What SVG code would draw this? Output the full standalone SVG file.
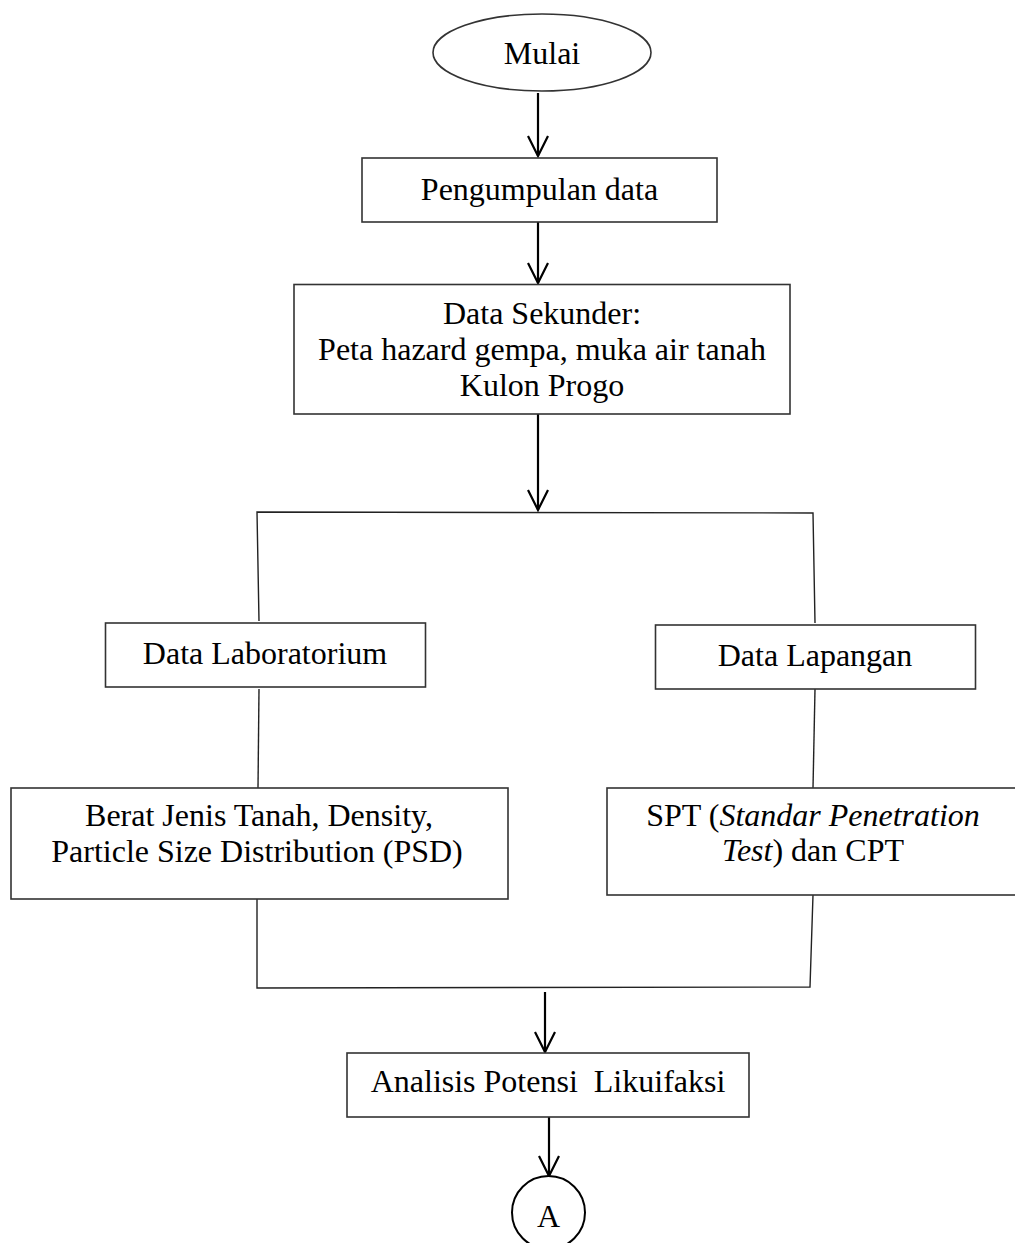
<svg xmlns="http://www.w3.org/2000/svg" width="1015" height="1243" viewBox="0 0 1015 1243">
<style>
.box{fill:#fff;stroke:#333;stroke-width:1.6}
.t{font-family:"Liberation Serif","Times New Roman",serif;font-size:32px;fill:#000;text-anchor:middle}
.ln{fill:none;stroke:#222;stroke-width:1.4}
.ar{fill:none;stroke:#000;stroke-width:2.2}
</style>
<defs>
<marker id="v" markerUnits="userSpaceOnUse" markerWidth="26" markerHeight="26" viewBox="-23 -13 26 26" refX="0" refY="0" orient="auto" overflow="visible">
<path d="M-20,-10 L0,0 L-20,10" fill="none" stroke="#000" stroke-width="2.2"/>
</marker>
</defs>
<rect width="1015" height="1243" fill="#fff"/>
<g id="connectors">
<line class="ar" x1="538" y1="93" x2="538" y2="156" marker-end="url(#v)"/>
<line class="ar" x1="538" y1="222" x2="538" y2="283" marker-end="url(#v)"/>
<line class="ar" x1="538" y1="414" x2="538" y2="510" marker-end="url(#v)"/>
<polyline class="ln" points="259,621 257,512 813,513 815,623"/>
<line class="ln" x1="259" y1="689" x2="258" y2="788"/>
<line class="ln" x1="815" y1="689" x2="813" y2="788"/>
<polyline class="ln" points="257,899 257,988 810,987 813,895"/>
<line class="ar" x1="545" y1="992" x2="545" y2="1052" marker-end="url(#v)"/>
<line class="ar" x1="549" y1="1117" x2="549" y2="1176" marker-end="url(#v)"/>
</g>
<g id="mulai">
<ellipse class="box" cx="542" cy="52.5" rx="109" ry="38.5"/>
<text class="t" x="542" y="64">Mulai</text>
</g>
<g id="pengumpulan">
<rect class="box" x="362" y="158" width="355" height="64"/>
<text class="t" x="539.5" y="200">Pengumpulan data</text>
</g>
<g id="sekunder">
<rect class="box" x="294" y="284.5" width="496" height="129.5"/>
<text class="t" x="542" y="324">Data Sekunder:</text>
<text class="t" x="542" y="360">Peta hazard gempa, muka air tanah</text>
<text class="t" x="542" y="396">Kulon Progo</text>
</g>
<g id="laboratorium">
<rect class="box" x="105.5" y="623" width="320" height="64"/>
<text class="t" x="265" y="664">Data Laboratorium</text>
</g>
<g id="lapangan">
<rect class="box" x="655.5" y="625" width="320" height="64"/>
<text class="t" x="815" y="666">Data Lapangan</text>
</g>
<g id="berat">
<rect class="box" x="11" y="788" width="497" height="111"/>
<text class="t" x="259" y="826">Berat Jenis Tanah, Density,</text>
<text class="t" x="257" y="862">Particle Size Distribution (PSD)</text>
</g>
<g id="spt">
<rect class="box" x="607" y="788" width="420" height="107"/>
<text class="t" x="813" y="826">SPT (<tspan font-style="italic">Standar Penetration</tspan></text>
<text class="t" x="813" y="861"><tspan font-style="italic">Test</tspan>) dan CPT</text>
</g>
<g id="analisis">
<rect class="box" x="347" y="1053" width="402" height="64"/>
<text class="t" x="548" y="1092" xml:space="preserve">Analisis Potensi  Likuifaksi</text>
</g>
<g id="connector-a">
<circle cx="548.5" cy="1212.5" r="36.5" fill="#fff" stroke="#000" stroke-width="2"/>
<text class="t" x="548.5" y="1227">A</text>
</g>
</svg>
